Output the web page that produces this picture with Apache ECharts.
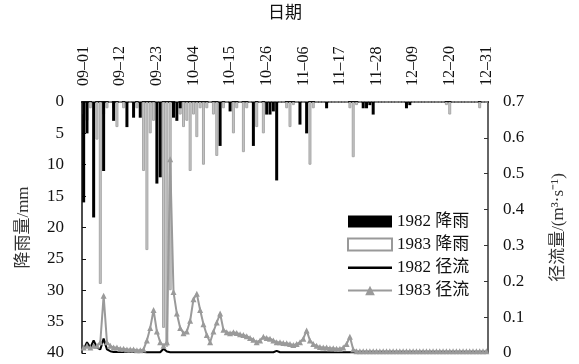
<!DOCTYPE html>
<html>
<head>
<meta charset="utf-8">
<script src="https://cdn.jsdelivr.net/npm/echarts@6/dist/echarts.min.js"></script>
<style>
  html, body { margin: 0; padding: 0; background: #fff; }
  #rainRunoffChart { width: 579px; height: 364px; }
</style>
</head>
<body>
<div id="rainRunoffChart"></div>
<script>
// days 09-01 .. 12-31 (122 days)
const dayLabels = [];
const monthLengths = [['09', 30], ['10', 31], ['11', 30], ['12', 31]];
monthLengths.forEach(([m, n]) => {
  for (let d = 1; d <= n; d++) {
    dayLabels.push(m + '-' + String(d).padStart(2, '0'));
  }
});

// rainfall, mm
const rain1982 = [
  16, 5, 0, 18.4, 0, 0, 11, 0, 0, 3,
  0, 0, 0, 4, 0, 2.5, 0, 2.5, 0, 0,
  0, 0, 13, 12, 0, 0, 0, 2.5, 3, 1,
  0, 0, 0, 0, 0, 0, 0, 0, 0, 0,
  0, 7, 0, 0, 1.5, 0, 0, 0, 0, 0,
  0, 7, 0, 0, 0, 2, 2, 1.5, 12.5, 0,
  0, 0, 0, 0, 0, 3.6, 0, 5, 0, 0,
  0, 0, 0, 1, 0, 0, 0, 0, 0, 0,
  0, 0, 0, 0, 1, 1, 0.5, 2, 0, 0,
  0, 0, 0, 0, 0, 0, 0, 1, 0.5, 0,
  0, 0, 0, 0, 0, 0, 0, 0, 0, 0,
  0, 0, 0, 0, 0, 0, 0, 0, 0, 0,
  0, 0
];
const rain1983 = [
  2, 3, 1, 0, 6, 29, 2, 1, 0, 1,
  4, 0, 1, 0, 0, 0, 1, 0, 11, 23.6,
  5, 3, 0, 0, 36, 39, 30, 1, 0, 2,
  4, 3, 11, 2, 5.6, 1, 10, 1, 0, 2,
  8.6, 0, 1, 0, 0, 5, 1, 0, 8, 1,
  0, 0, 4, 0, 5, 0, 0, 0, 0, 0,
  0, 1, 4, 0.5, 0, 0, 0, 0, 10, 1,
  0, 0, 0, 0, 0, 0, 0, 0, 0, 0,
  1, 8.8, 0.5, 0, 0, 0, 0, 0, 0, 0,
  0, 0, 0, 0, 0, 0, 0, 0, 0, 0,
  0, 0, 0, 0, 0, 0, 0, 0, 0, 0.5,
  2, 0, 0, 0, 0, 0, 0, 0, 0, 1,
  0, 0
];

// runoff, m3/s
const runoff1982 = [
  0.01, 0.03, 0.015, 0.035, 0.015, 0.01, 0.04, 0.01, 0.005, 0.003,
  0.003, 0.003, 0.003, 0.003, 0.003, 0.003, 0.003, 0.003, 0.003, 0.002,
  0.002, 0.002, 0.002, 0.002, 0.012, 0.004, 0.002, 0.002, 0.002, 0.002,
  0.002, 0.002, 0.002, 0.002, 0.002, 0.002, 0.002, 0.002, 0.002, 0.002,
  0.002, 0.002, 0.002, 0.002, 0.002, 0.002, 0.002, 0.002, 0.002, 0.002,
  0.002, 0.002, 0.002, 0.002, 0.002, 0.002, 0.002, 0.002, 0.006, 0.002,
  0.002, 0.002, 0.002, 0.002, 0.002, 0.002, 0.002, 0.002, 0.002, 0.002,
  0.002, 0.002, 0.002, 0.002, 0.002, 0.002, 0.002, 0.002, 0.002, 0.002,
  0.002, 0.002, 0.002, 0.002, 0.002, 0.002, 0.002, 0.002, 0.002, 0.002,
  0.002, 0.002, 0.002, 0.002, 0.002, 0.002, 0.002, 0.002, 0.002, 0.002,
  0.002, 0.002, 0.002, 0.002, 0.002, 0.002, 0.002, 0.002, 0.002, 0.002,
  0.002, 0.002, 0.002, 0.002, 0.002, 0.002, 0.002, 0.002, 0.002, 0.002,
  0.002, 0.002
];
const runoff1983 = [
  0.015, 0.02, 0.015, 0.02, 0.02, 0.03, 0.16, 0.03, 0.02, 0.015,
  0.015, 0.012, 0.012, 0.01, 0.01, 0.01, 0.008, 0.008, 0.01, 0.035,
  0.07, 0.12, 0.06, 0.03, 0.02, 0.03, 0.54, 0.17, 0.11, 0.07,
  0.055, 0.06, 0.09, 0.15, 0.165, 0.12, 0.08, 0.05, 0.03, 0.06,
  0.085, 0.11, 0.065, 0.058, 0.055, 0.058, 0.056, 0.052, 0.05, 0.047,
  0.042, 0.037, 0.03, 0.035, 0.045, 0.042, 0.04, 0.035, 0.03, 0.03,
  0.028, 0.027, 0.025, 0.022, 0.025, 0.03, 0.04, 0.063, 0.035, 0.025,
  0.02, 0.017, 0.015, 0.015, 0.013, 0.013, 0.012, 0.012, 0.015, 0.025,
  0.045, 0.01, 0.005, 0.005, 0.005, 0.005, 0.005, 0.005, 0.005, 0.005,
  0.005, 0.005, 0.005, 0.005, 0.005, 0.005, 0.005, 0.005, 0.005, 0.005,
  0.005, 0.005, 0.005, 0.005, 0.005, 0.005, 0.005, 0.005, 0.005, 0.005,
  0.005, 0.005, 0.005, 0.005, 0.005, 0.005, 0.005, 0.005, 0.005, 0.005,
  0.005, 0.005
];

const fontFamily = "'Liberation Serif', 'Noto Sans CJK SC', serif";
const ink = '#111';
// plain line icon for the 1982 runoff legend entry (invisible corners keep its box)
const lineIcon = 'path://M0,0 M0,5 L44,5 L44,7.5 L0,7.5 Z M44,12';

const chart = echarts.init(document.getElementById('rainRunoffChart'));
chart.setOption({
  animation: false,
  textStyle: { fontFamily: fontFamily },
  grid: { left: 82, right: 91, top: 97, bottom: 11 },
  legend: {
    orient: 'vertical',
    left: 342,
    top: 208,
    itemWidth: 44,
    itemHeight: 12,
    itemGap: 6,
    textStyle: { fontSize: 17, color: ink, fontFamily: fontFamily },
    data: [
      { name: '1982 降雨', icon: 'rect' },
      { name: '1983 降雨', icon: 'rect', itemStyle: { color: '#fff', borderColor: '#999', borderWidth: 2 } },
      { name: '1982 径流', icon: lineIcon, itemStyle: { color: '#000' } },
      { name: '1983 径流' }
    ]
  },
  xAxis: {
    type: 'category',
    position: 'top',
    data: dayLabels,
    boundaryGap: true,
    name: '日期',
    nameLocation: 'middle',
    nameGap: 80,
    nameTextStyle: { fontSize: 17, color: ink },
    axisLine: { lineStyle: { color: ink, width: 2 } },
    axisTick: { show: false },
    axisLabel: {
      interval: 10,
      rotate: 90,
      margin: 16,
      fontSize: 16,
      color: ink,
      formatter: (v) => v.replace('-', '–')
    }
  },
  yAxis: [
    {
      type: 'value',
      inverse: true,
      min: 0,
      max: 40,
      interval: 5,
      position: 'left',
      name: '降雨量/mm',
      nameLocation: 'middle',
      nameRotate: 90,
      nameGap: 50,
      nameTextStyle: { fontSize: 17, color: '#333' },
      axisLine: { show: true, lineStyle: { color: ink, width: 1.5 } },
      axisTick: { show: true, inside: true, length: 4, lineStyle: { color: ink } },
      axisLabel: { fontSize: 17, color: ink, margin: 18 },
      splitLine: { show: false }
    },
    {
      type: 'value',
      min: 0,
      max: 0.7,
      interval: 0.1,
      position: 'right',
      name: '径流量/(m³·s⁻¹)',
      nameLocation: 'middle',
      nameRotate: 90,
      nameGap: 62,
      nameTextStyle: { fontSize: 17, color: '#333' },
      axisLine: { show: true, lineStyle: { color: '#333', width: 1.5 } },
      axisTick: { show: true, inside: true, length: 4, lineStyle: { color: '#333' } },
      axisLabel: { fontSize: 17, color: ink, margin: 15 },
      splitLine: { show: false }
    }
  ],
  series: [
    {
      name: '1983 降雨',
      type: 'bar',
      yAxisIndex: 0,
      data: rain1983,
      barWidth: 3,
      barGap: '-100%',
      itemStyle: { color: '#c4c4c4', borderColor: '#a8a8a8', borderWidth: 1 }
    },
    {
      name: '1982 降雨',
      type: 'bar',
      yAxisIndex: 0,
      data: rain1982,
      barWidth: 3,
      barGap: '-100%',
      itemStyle: { color: '#000' }
    },
    {
      name: '1983 径流',
      type: 'line',
      yAxisIndex: 1,
      data: runoff1983,
      symbol: 'triangle',
      symbolSize: 6,
      showAllSymbol: true,
      lineStyle: { color: '#9a9a9a', width: 2 },
      itemStyle: { color: '#9a9a9a' }
    },
    {
      name: '1982 径流',
      type: 'line',
      yAxisIndex: 1,
      data: runoff1982,
      symbol: 'none',
      lineStyle: { color: '#000', width: 2 },
      itemStyle: { color: '#000' }
    }
  ]
});
</script>
</body>
</html>
